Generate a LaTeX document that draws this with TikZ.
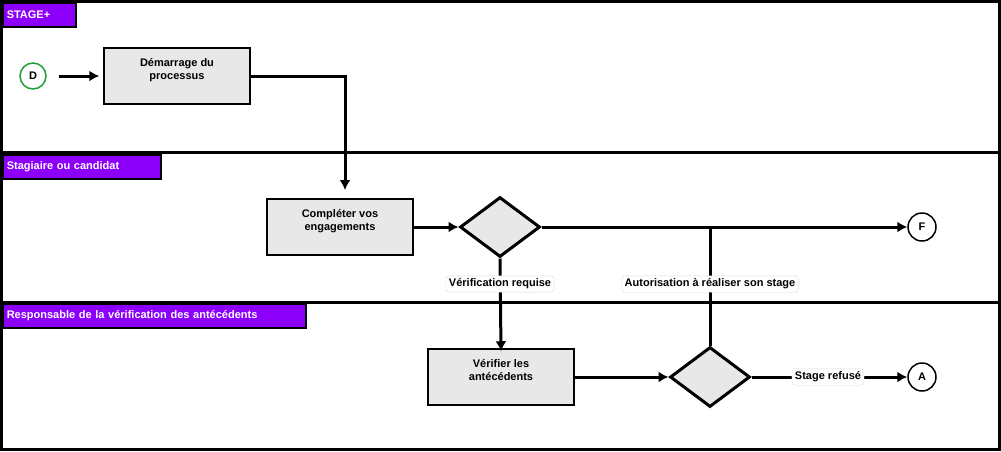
\documentclass[tikz,border=0pt]{standalone}
\usepackage{fontspec}
\setmainfont{Liberation Sans}
\usetikzlibrary{shapes.geometric, arrows.meta, positioning, calc}
\definecolor{lanepurple}{RGB}{140, 0, 250}
\definecolor{boxgray}{RGB}{232, 232, 232}
\definecolor{startgreen}{RGB}{30, 160, 50}

\begin{document}
\begin{tikzpicture}[
    x=1pt, y=-1pt,
    font=\fontsize{11}{13}\selectfont,
    lane/.style={draw=black, line width=3pt},
    lanelabel/.style={rectangle, draw=black, line width=1.5pt, fill=lanepurple, text=white, font=\fontsize{11}{13}\selectfont\bfseries, anchor=north west, inner sep=4pt, minimum height=24pt, align=left, text width=#1},
    task/.style={rectangle, draw=black, line width=1.5pt, fill=boxgray, minimum width=146pt, minimum height=56pt, align=center, text centered, text depth=14pt, font=\fontsize{11}{13}\selectfont\bfseries},
    gate/.style={diamond, draw=black, line width=3pt, fill=boxgray, minimum width=80pt, minimum height=60pt, inner sep=0pt, aspect=1.33},
    event/.style={circle, draw=black, line width=1.5pt, fill=white, minimum size=28pt, inner sep=0pt, font=\fontsize{11}{13}\selectfont\bfseries},
    tag/.style={rectangle, draw=black!15, rounded corners=3pt, fill=white, inner sep=3pt, font=\fontsize{11}{13}\selectfont\bfseries},
    arrow/.style={line width=3pt, -{Latex[length=10pt, width=11pt]}}
]
\useasboundingbox (0,0) rectangle (1001,451);

% Lanes
\draw[lane] (1.5,1.5) rectangle (999.5,152);
\draw[lane] (1.5,152) rectangle (999.5,302);
\draw[lane] (1.5,302) rectangle (999.5,449.5);
\node[lanelabel=65pt] at (2,2) (l1) {STAGE+};
\node[lanelabel=150pt] at (2,154) (l2) {Stagiaire ou candidat};
\node[lanelabel=295pt] at (2,303) (l3) {Responsable de la vérification des antécédents};

% Nodes
\node[event, draw=startgreen, minimum size=26pt] (start) at (33,76) {D};
\node[task] (begin) at (177,76) {Démarrage du\\processus};
\node[task] (commit) at (340,227) {Compléter vos\\engagements};
\node[gate] (check) at (500,227) {};
\node[event] (fin) at (922,227) {F};
\node[task] (verify) at (501,377) {Vérifier les\\antécédents};
\node[gate] (decide) at (710,377) {};
\node[event] (abort) at (922,377) {A};
\coordinate (join) at (710,227);

% Arrows
\draw[arrow] ([xshift=12pt]start.east) -- ([xshift=-4pt]begin.west);
\draw[arrow] (begin.east) -- (345,76) -- (345,190);
\draw[arrow] (commit) -- (check);
\draw[arrow] (check) -- (fin);
\draw[line width=3pt] (decide.north) -- (join);
\draw[arrow] (check.south) -- ([yshift=-3pt]verify.north);
\draw[arrow] (verify) -- (decide);
\draw[arrow] (decide) -- (abort);

% Labels
\node[tag] at (500,284) {Vérification requise};
\node[tag] at (710,284) {Autorisation à réaliser son stage};
\node[tag] at (828,377) {Stage refusé};

\end{tikzpicture}
\end{document}
